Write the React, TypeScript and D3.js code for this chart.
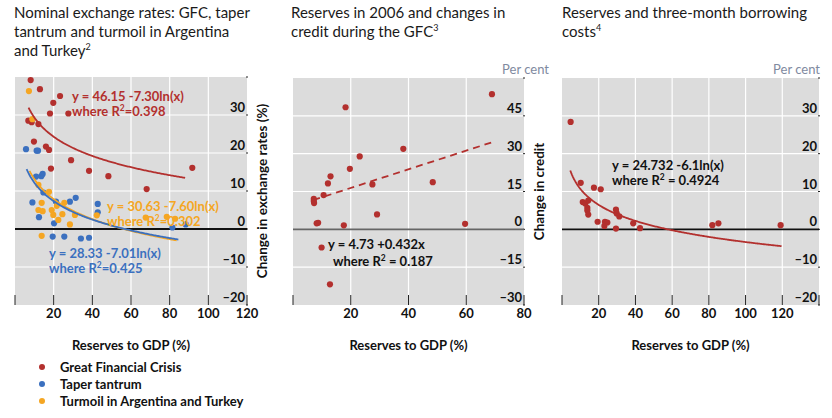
import React from "react";
import * as d3 from "d3";

// ---------- DATA ----------
const gfcPoints: [number, number][] = [
  [8.1, 39.2], [12.9, 36.8], [23.3, 35.0], [19.8, 33.2], [18.1, 30.4], [27.6, 30.4],
  [6.9, 28.5], [8.6, 28.1], [12.1, 27.6], [9.8, 23.0], [16.0, 21.7], [17.6, 20.8],
  [29.0, 18.1], [18.6, 15.9], [38.3, 15.3], [48.3, 13.9], [68.1, 10.5], [91.7, 16.1],
];
const taperPoints: [number, number][] = [
  [5.7, 21.0], [11.2, 20.6], [11.9, 20.6], [10.9, 13.8], [13.6, 13.9], [14.3, 14.5],
  [14.7, 9.6], [9.0, 7.0], [12.4, 3.1], [21.2, 7.2], [28.4, 7.2], [31.4, 8.2],
  [42.8, 6.6], [42.8, 4.4], [20.2, 1.5], [19.5, -2.0], [25.5, -2.0], [34.1, -2.5],
  [38.3, -2.3], [81.4, 0.4], [88.3, 1.2],
];
const turmoilPoints: [number, number][] = [
  [7.2, 36.3], [9.0, 28.9], [12.1, 11.6], [17.6, 9.8], [13.8, 6.9], [12.1, 5.0],
  [14.3, 4.7], [19.0, 5.0], [21.6, 6.1], [25.5, 6.9], [19.8, 3.7], [24.5, 3.9],
  [31.0, 3.7], [22.4, 2.4], [28.4, 1.2], [13.8, -1.8], [42.3, 3.6], [67.6, 3.0],
  [78.5, 3.2], [82.8, 2.7],
];
const creditPoints: [number, number][] = [
  [68.9, 53.6], [18.2, 48.4], [38.2, 31.9], [23.1, 28.9], [19.7, 24.0], [13.0, 21.0],
  [12.1, 18.2], [27.5, 17.8], [48.4, 18.7], [10.6, 13.6], [7.2, 12.1], [7.2, 11.2],
  [7.3, 10.4], [29.1, 5.9], [8.2, 2.4], [8.7, 2.6], [17.6, 1.6], [59.6, 2.2],
  [9.9, -7.2], [12.8, -21.8],
];
const borrowPoints: [number, number][] = [
  [4.7, 28.4], [10.2, 12.3], [17.4, 11.0], [21.1, 10.6], [11.3, 7.2], [12.7, 6.8],
  [14.3, 7.6], [13.8, 5.7], [13.8, 5.0], [14.3, 3.9], [19.4, 2.0], [23.4, 2.0],
  [24.7, 1.8], [23.1, 0.9], [29.4, 5.2], [29.8, 4.2], [31.2, 3.4], [29.4, 0.2],
  [38.8, 1.6], [42.5, 0.3], [81.9, 1.1], [85.2, 1.6], [119.1, 1.1],
];

// log fits: [intercept, slope, xStart, xEnd]
const gfcFit = [46.15, -7.3, 7, 88];
const taperFit = [28.33, -7.01, 6, 84.5];
const turmoilFit = [30.63, -7.6, 7.5, 83.6];
const borrowFit = [24.732, -6.1, 4.5, 119.6];
const creditTrend: [number, number][] = [[7, 11.6], [68.9, 34.5]];

const xTicks1 = [0, 20, 40, 60, 80, 100, 120];
const xTicks2 = [0, 20, 40, 60, 80];
const xTicks3 = [0, 20, 40, 60, 80, 100, 120, 140];
const yTicks1 = [-20, -10, 0, 10, 20, 30, 40];
const yTicks2 = [-30, -15, 0, 15, 30, 45, 60];
const yTicks3 = [-20, -10, 0, 10, 20, 30, 40];

const legendItems = ["Great Financial Crisis", "Taper tantrum", "Turmoil in Argentina and Turkey"];

// ---------- STYLE ----------
const RED = "#b3302e";
const BLUE = "#3b70bf";
const ORANGE = "#f5a623";
const BG = "#dcdcdc";
const FONT = "Lato, 'Open Sans', sans-serif";
const legendColors = [RED, BLUE, ORANGE];

type PanelProps = {
  x0: number; x1: number; y0: number; y1: number;
  xDomain: [number, number]; yDomain: [number, number];
  xTicks: number[]; yTicks: number[];
  zeroColor: string; children: (x: any, y: any) => React.ReactNode;
  yTitle?: string; perCentX?: number;
};

function Panel(p: PanelProps) {
  const x = d3.scaleLinear().domain(p.xDomain).range([p.x0, p.x1]);
  const y = d3.scaleLinear().domain(p.yDomain).range([p.y1, p.y0]);
  const minX = p.xDomain[0], maxX = p.xDomain[1];
  const minY = p.yDomain[0], maxY = p.yDomain[1];
  return (
    <g>
      <rect x={p.x0} y={p.y0} width={p.x1 - p.x0} height={p.y1 - p.y0} fill={BG} />
      {p.xTicks.filter((t) => t !== minX && t !== maxX).map((t) => (
        <line key={"vx" + t} x1={x(t)} x2={x(t)} y1={p.y0} y2={p.y1} stroke="#fff" strokeWidth={1.2} />
      ))}
      {p.yTicks.filter((t) => t !== minY && t !== maxY && t !== 0).map((t) => (
        <line key={"hy" + t} x1={p.x0} x2={p.x1} y1={y(t)} y2={y(t)} stroke="#fff" strokeWidth={1.2} />
      ))}
      {p.xTicks.map((t) => (
        <line key={"tx" + t} x1={x(t)} x2={x(t)} y1={p.y1 - 10} y2={p.y1} stroke="#222" strokeWidth={1} />
      ))}
      {p.yTicks.map((t) => (
        <line key={"ty" + t} x1={p.x1 - 1} x2={p.x1 + 1} y1={y(t)} y2={y(t)} stroke="#222" strokeWidth={1} />
      ))}
      <line x1={p.x0} x2={p.x1} y1={y(0)} y2={y(0)} stroke={p.zeroColor} strokeWidth={1.8} />
      {p.children(x, y)}
      {p.yTicks.filter((t) => t !== maxY).map((t) => (
        <text key={"ly" + t} x={p.x1 - 2} y={y(t) - 3} textAnchor="end" fontFamily={FONT}
          fontWeight="bold" fontSize={13} fill="#111">
          {t < 0 ? "\u2013" + Math.abs(t) : String(t)}
        </text>
      ))}
      {p.xTicks.filter((t) => t !== 0 && t <= 120).map((t) => (
        <text key={"lx" + t} x={x(t)} y={318} textAnchor="middle" fontFamily={FONT}
          fontWeight="bold" fontSize={13} fill="#111">{t}</text>
      ))}
      <text x={(p.x0 + p.x1) / 2} y={350} textAnchor="middle" fontFamily={FONT}
        fontWeight="bold" fontSize={13} fill="#111">Reserves to GDP (%)</text>
      {p.yTitle && (
        <text transform={`translate(${p.x1 + 20},${(p.y0 + p.y1) / 2}) rotate(-90)`}
          textAnchor="middle" fontFamily={FONT} fontWeight="bold" fontSize={13.5} fill="#111">
          {p.yTitle}
        </text>
      )}
      {p.perCentX !== undefined && (
        <text x={p.perCentX} y={74} textAnchor="end" fontFamily={FONT} fontSize={13} fill="#7f8aa0">
          Per cent
        </text>
      )}
    </g>
  );
}

function logCurve(fit: number[], x: any, y: any) {
  const xs = d3.range(fit[2], fit[3], 0.5).concat([fit[3]]);
  const line = d3.line<number>().x((v) => x(v)).y((v) => y(fit[0] + fit[1] * Math.log(v)));
  return line(xs) || "";
}

function Dots({ pts, color, x, y }: any) {
  return (
    <g>
      {pts.map((d: [number, number], i: number) => (
        <circle key={i} cx={x(d[0])} cy={y(d[1])} r={3.1} fill={color} />
      ))}
    </g>
  );
}

function Eq({ x, y, color, l1, r2, indent = 0, gap = 15, size = 13 }: any) {
  return (
    <text fontFamily={FONT} fontWeight="bold" fontSize={size} fill={color}>
      <tspan x={x} y={y}>{l1}</tspan>
      <tspan x={x + indent} y={y + gap}>where R</tspan>
      <tspan dy={-5} fontSize={size * 0.65}>2</tspan>
      <tspan dy={5}>{r2}</tspan>
    </text>
  );
}

function Title({ x, lines, sup }: { x: number; lines: string[]; sup: string }) {
  return (
    <text fontFamily={FONT} fontSize={15} fill="#1a1a1a">
      {lines.map((l, i) => (
        <tspan key={i} x={x} y={18 + i * 19}>{l}</tspan>
      ))}
      <tspan dy={-6} fontSize={9}>{sup}</tspan>
    </text>
  );
}

export default function App() {
  return (
    <svg width={832} height={418} style={{ position: "absolute", left: 0, top: 0 }}>
      <rect width={832} height={418} fill="#fff" />
      <Title x={14} lines={["Nominal exchange rates: GFC, taper", "tantrum and turmoil in Argentina", "and Turkey"]} sup="2" />
      <Title x={291} lines={["Reserves in 2006 and changes in", "credit during the GFC"]} sup="3" />
      <Title x={562} lines={["Reserves and three-month borrowing", "costs"]} sup="4" />

      <Panel x0={15} x1={247} y0={77} y1={305} xDomain={[0, 120]} yDomain={[-20, 40]}
        xTicks={xTicks1} yTicks={yTicks1} zeroColor="#111" yTitle="Change in exchange rates (%)">
        {(x, y) => (
          <g>
            <Dots pts={gfcPoints} color={RED} x={x} y={y} />
            <Dots pts={taperPoints} color={BLUE} x={x} y={y} />
            <Dots pts={turmoilPoints} color={ORANGE} x={x} y={y} />
            <path d={logCurve(gfcFit, x, y)} fill="none" stroke={RED} strokeWidth={1.8} />
            <path d={logCurve(turmoilFit, x, y)} fill="none" stroke={ORANGE} strokeWidth={1.8} />
            <path d={logCurve(taperFit, x, y)} fill="none" stroke={BLUE} strokeWidth={1.8} />
            <Eq x={72} y={101} color={RED} l1="y = 46.15 -7.30ln(x)" r2="=0.398" />
            <Eq x={107} y={211} color={ORANGE} l1="y = 30.63 -7.60ln(x)" r2="=0.302" />
            <Eq x={49} y={258} color={BLUE} l1="y = 28.33 -7.01ln(x)" r2="=0.425" />
          </g>
        )}
      </Panel>

      <Panel x0={293} x1={524} y0={78} y1={305} xDomain={[0, 80]} yDomain={[-30, 60]}
        xTicks={xTicks2} yTicks={yTicks2} zeroColor="#666" yTitle="Change in credit" perCentX={549}>
        {(x, y) => (
          <g>
            <path d={d3.line().x((d) => x(d[0])).y((d) => y(d[1]))(creditTrend) || ""}
              fill="none" stroke={RED} strokeWidth={1.8} strokeDasharray="7,5" />
            <Dots pts={creditPoints} color={RED} x={x} y={y} />
            <Eq x={328} y={249} color="#111" l1="y = 4.73 +0.432x" r2=" = 0.187" indent={5} gap={17} />
          </g>
        )}
      </Panel>

      <Panel x0={562} x1={819} y0={78} y1={305} xDomain={[0, 140]} yDomain={[-20, 40]}
        xTicks={xTicks3} yTicks={yTicks3} zeroColor="#111" perCentX={820}>
        {(x, y) => (
          <g>
            <Dots pts={borrowPoints} color={RED} x={x} y={y} />
            <path d={logCurve(borrowFit, x, y)} fill="none" stroke={RED} strokeWidth={1.8} />
            <Eq x={612} y={170} color="#111" l1="y = 24.732 -6.1ln(x)" r2=" = 0.4924" gap={15} />
          </g>
        )}
      </Panel>

      {legendItems.map((t, i) => (
        <g key={t}>
          <circle cx={42} cy={367 + i * 17} r={3} fill={legendColors[i]} />
          <text x={60} y={372 + i * 17} fontFamily={FONT} fontWeight="bold" fontSize={13} fill="#111">{t}</text>
        </g>
      ))}
    </svg>
  );
}
